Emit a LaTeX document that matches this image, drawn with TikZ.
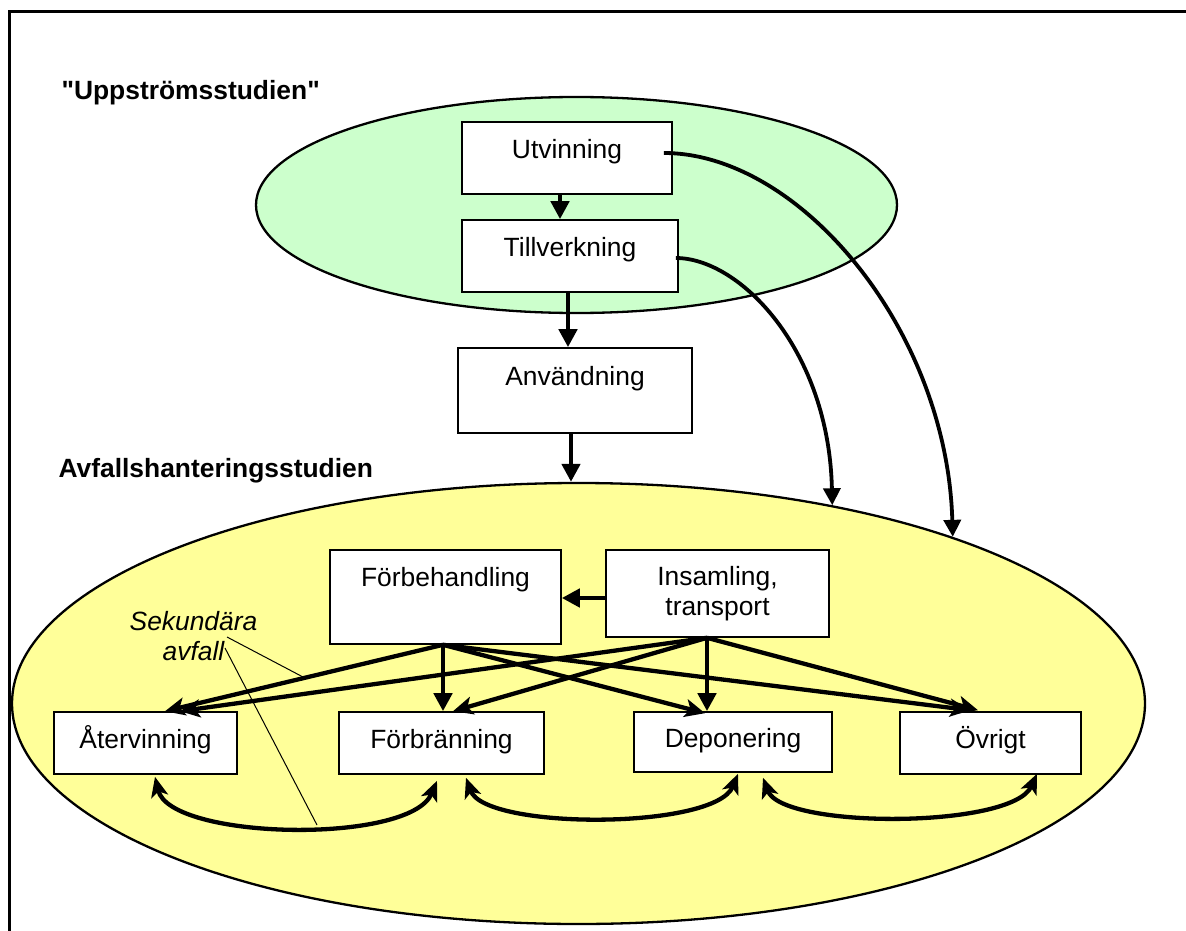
\documentclass[tikz,border=0pt]{standalone}
\usepackage{fontspec}
\setmainfont{Liberation Sans}[Ligatures=TeXOff]
\usetikzlibrary{arrows.meta,shapes.geometric,calc}
\definecolor{upgreen}{RGB}{204,255,204}
\definecolor{downyellow}{RGB}{255,255,153}
\begin{document}
\begin{tikzpicture}[x=1pt,y=-1pt,
  every node/.style={font=\fontsize{26.4}{30}\selectfont},
  stepbox/.style n args={4}{draw=black, line width=1.6pt, fill=white, inner sep=0pt,
     minimum width=#1, minimum height=#2, text height=#3, text depth=#4},
  twobox/.style 2 args={draw=black, line width=1.6pt, fill=white, inner sep=0pt,
     minimum width=#1, minimum height=#2, align=center},
  region/.style={ellipse, draw=black, line width=2.3pt, inner sep=0pt},
  arr/.style={line width=4.5pt, -{Triangle[length=18pt,width=18pt]}},
  darr/.style={line width=4.3pt, -{Stealth[length=20pt,width=18pt,inset=5pt]}},
  carr/.style={line width=3.8pt, -{Triangle[length=17pt,width=17pt]}},
  barr/.style={line width=4.3pt, {Stealth[length=20pt,width=17pt,inset=5pt]}-{Stealth[length=20pt,width=17pt,inset=5pt]}},
  callout/.style={line width=1pt},
  title/.style={anchor=base west, font=\fontsize{26.4}{30}\selectfont\bfseries}
]
\useasboundingbox (0,0) rectangle (1186,931);

% frame
\draw[line width=3pt] (9,935) -- (9,12) -- (1195,12);

% regions
\node[region, fill=upgreen, minimum width=641pt, minimum height=216pt] (green) at (576.5,205) {};
\node[region, fill=downyellow, minimum width=1133pt, minimum height=441pt] (yell) at (578.5,703.5) {};

% titles
\node[title] (t1) at (58,100) {"Uppströmsstudien"};
\node[title] (t2) at (55,477) {Avfallshanteringsstudien};

% upstream boxes
\node[stepbox={210pt}{72pt}{36pt}{36pt}] (utv) at (567,158) {Utvinning};
\node[stepbox={216pt}{72pt}{36pt}{36pt}] (til) at (570,256) {Tillverkning};
\node[stepbox={234pt}{85pt}{37pt}{48pt}] (anv) at (575,390.5) {Användning};

% waste boxes
\node[stepbox={231pt}{94pt}{36pt}{58pt}] (forb) at (445.5,597) {Förbehandling};
\node[twobox={223pt}{87pt}] (ins) at (717.5,593.5) {Insamling,\\transport};
\node[stepbox={183pt}{62pt}{17pt}{6pt}] (atv) at (145.5,743) {Återvinning};
\node[stepbox={205pt}{62pt}{17pt}{6pt}] (fbr) at (441.5,743) {Förbränning};
\node[stepbox={198pt}{60pt}{17pt}{6pt}] (dep) at (733,742) {Deponering};
\node[stepbox={181pt}{62pt}{17pt}{6pt}] (ovr) at (990.5,743) {Övrigt};

% vertical flow
\coordinate (a1) at ($(utv.south)+(-7,0)$);
\draw[arr] (a1) -- (a1 |- til.north);
\coordinate (a2) at ($(til.south)+(-2,0)$);
\draw[arr] (a2) -- (a2 |- anv.north);
\coordinate (a3) at ($(anv.south)+(-4,0)$);
\draw[arr] (a3) -- (a3 |- yell.north);

% long curved arrows
\draw[carr] ($(utv.east)+(-9,-5)$) .. controls (800,153) and (947,330) .. (yell.24.6);
\draw[carr] ($(til.east)+(-3,2)$) .. controls (740,258) and (829,350) .. (yell.38.1);

% insamling -> förbehandling
\coordinate (i1) at ($(ins.west)+(0,4.5)$);
\draw[arr] (i1) -- (i1 -| forb.east);

% distribution
\coordinate (fs) at ($(forb.south)+(-2.5,0)$);
\coordinate (is) at ($(ins.south)+(-10.5,0)$);
\draw[darr] (fs) -- ($(atv.north)+(19.5,0)$);
\draw[arr] (fs) -- (fs |- fbr.north);
\draw[darr] (fs) -- ($(dep.north)+(-28,2)$);
\draw[darr] (fs) -- ($(ovr.north)+(-20.5,-1)$);
\draw[darr] (is) -- ($(atv.north)+(34.5,0)$);
\draw[darr] (is) -- ($(fbr.north)+(11.5,0)$);
\draw[arr] (is) -- (is |- dep.north);
\draw[darr] (is) -- ($(ovr.north)+(-12.5,-1)$);

% secondary waste loops
\draw[barr] ($(atv.south)+(9.5,2)$) .. controls (170,840) and (410,845) .. ($(fbr.south)+(-4.5,6)$);
\draw[barr] ($(fbr.south)+(24.5,3)$) .. controls (485,830) and (715,830) .. ($(dep.south)+(5,1)$);
\draw[barr] ($(dep.south)+(30,5)$) .. controls (782,829) and (1012,829) .. ($(ovr.south)+(46.5,-1)$);

% callout
\node[align=center, font=\fontsize{26.4}{30}\selectfont\itshape] (sek) at (193.5,636.5) {Sekundära\\avfall};
\coordinate (s1) at (227,637);
\coordinate (s2) at (225,648);
\coordinate (e1) at (303,677);
\coordinate (e2) at (317,825);
\draw[callout] (s1) -- (e1);
\draw[callout] (s2) -- (e2);
\end{tikzpicture}
\end{document}
